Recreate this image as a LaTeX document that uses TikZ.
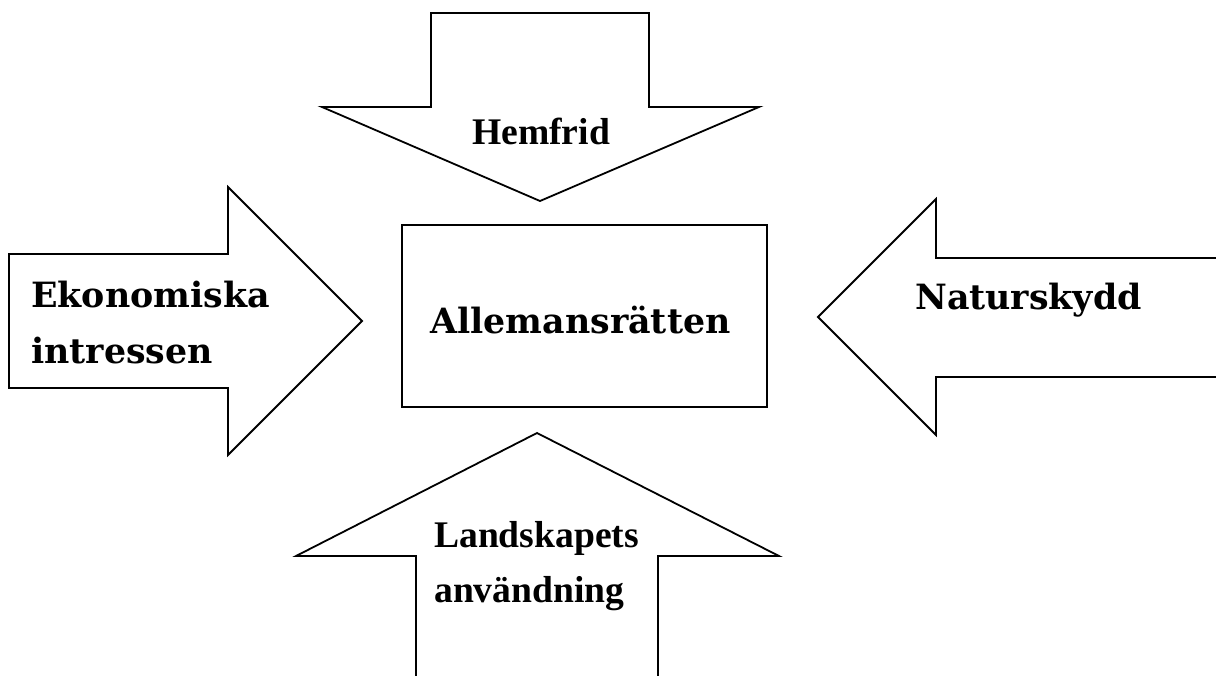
\documentclass[tikz,border=0pt]{standalone}
\usepackage{fontspec}
\setmainfont{DejaVu Serif}
\newfontfamily\timesfam{Liberation Serif}
\begin{document}
\begin{tikzpicture}[x=1pt,y=-1pt,
  shapeline/.style={draw=black,line width=1.8pt,line join=miter},
  lbl/.style={inner sep=0pt,anchor=base west,font=\fontsize{34.8}{40}\selectfont\bfseries},
  tlbl/.style={inner sep=0pt,anchor=base west,font=\timesfam\fontsize{37.6}{44}\selectfont\bfseries}]
\useasboundingbox (0,0) rectangle (1216,675);
% top arrow
\draw[shapeline] (322,107) -- (431,107) -- (431,13) -- (649,13) -- (649,107) -- (759,107) -- (540,201) -- cycle;
% left arrow
\draw[shapeline] (9,254) -- (228,254) -- (228,187) -- (362,321) -- (228,455) -- (228,388) -- (9,388) -- cycle;
% right arrow
\draw[shapeline] (1222,258) -- (936,258) -- (936,199) -- (818,317) -- (936,435) -- (936,377) -- (1222,377);
% bottom arrow
\draw[shapeline] (416,682) -- (416,556) -- (296,556) -- (537,433) -- (779,556) -- (658,556) -- (658,682);
% centre box
\draw[shapeline] (402,225) rectangle (767,407);
\node[tlbl] (hem) at (472,144) {Hemfrid};
\node[lbl] (eko) at (31,307) {Ekonomiska};
\node[lbl] (int) at (31,363) {intressen};
\node[lbl] (all) at (430,333) {Allemansrätten};
\node[lbl] (nat) at (915,309) {Naturskydd};
\node[tlbl] (lan) at (434,547) {Landskapets};
\node[tlbl] (anv) at (434,602) {användning};
\end{tikzpicture}
\end{document}
